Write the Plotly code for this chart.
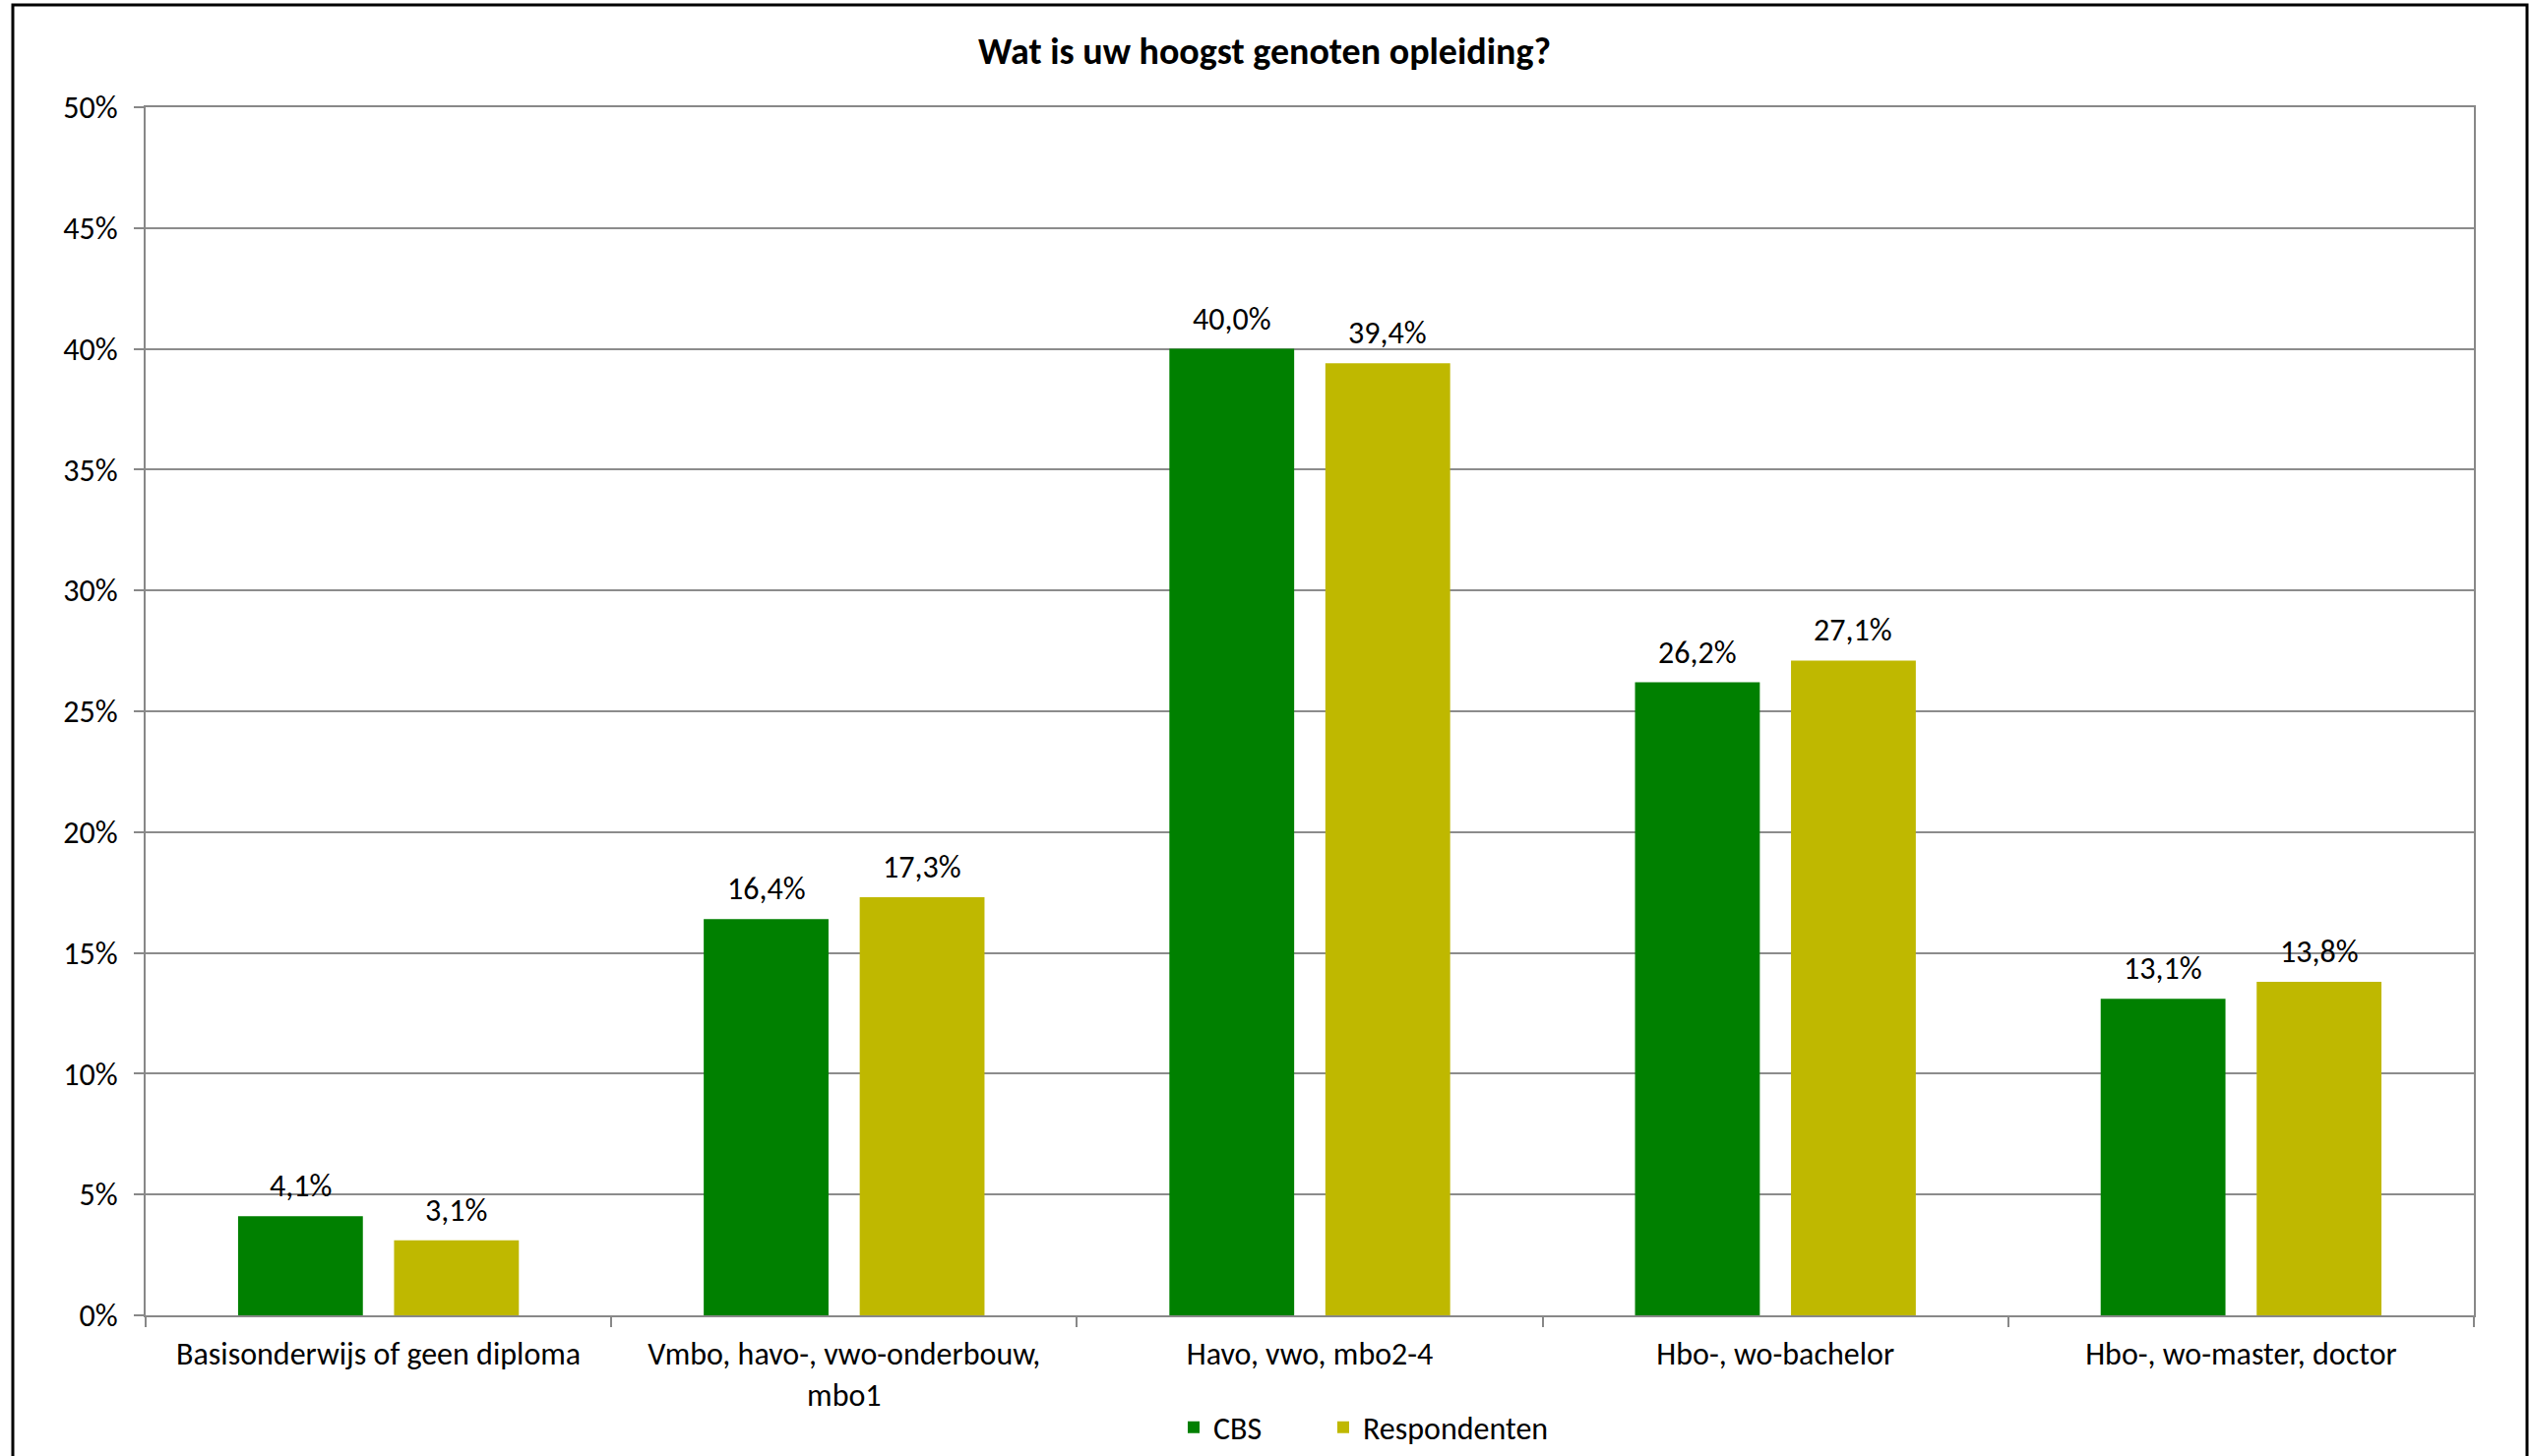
import plotly.graph_objects as go

categories = [
    "Basisonderwijs of geen diploma",
    "Vmbo, havo-, vwo-onderbouw,<br>mbo1",
    "Havo, vwo, mbo2-4",
    "Hbo-, wo-bachelor",
    "Hbo-, wo-master, doctor",
]
cbs = [4.1, 16.4, 40.0, 26.2, 13.1]
respondenten = [3.1, 17.3, 39.4, 27.1, 13.8]
y_ticks = list(range(0, 55, 5))
y_ticklabels = [f"{v}%" for v in y_ticks]

FONT = "Carlito, Lato, 'Liberation Sans', sans-serif"
FS = 32


def fmt(v):
    return f"{v:.1f}".replace(".", ",") + "%"


L, R, T, B = 148, 56, 109, 143
W, H = 2570, 1480
pw, ph = W - L - R, H - T - B
BARGAP, GROUPGAP = 0.33, 0.2
slot = pw / len(categories) * (1 - BARGAP) / 2

fig = go.Figure()
series = [("CBS", cbs, "#008000", "legend", 1193),
          ("Respondenten", respondenten, "#BFB800", "legend2", 1345)]
for name, vals, col, leg, _ in series:
    fig.add_trace(go.Bar(
        name=name, x=categories, y=vals, legend=leg, showlegend=True,
        marker=dict(color=col, line=dict(width=0)),
    ))

for i, (name, vals, col, _, _) in enumerate(series):
    shift = (i - 0.5) * slot
    for c, v in zip(categories, vals):
        fig.add_annotation(
            x=c, y=v, xref="x", yref="y", text=fmt(v), showarrow=False,
            xanchor="center", yanchor="bottom", xshift=shift, yshift=9,
            font=dict(size=FS, family=FONT, color="black"),
        )

legend_style = dict(
    orientation="h", xref="container", xanchor="left",
    yref="container", y=1 - 1451 / H, yanchor="middle",
    font=dict(size=FS, family=FONT), itemwidth=30,
    bgcolor="rgba(0,0,0,0)",
)

fig.update_layout(
    width=W, height=H, showlegend=True,
    margin=dict(l=L, r=R, t=T, b=B, autoexpand=False),
    paper_bgcolor="white", plot_bgcolor="white",
    font=dict(family=FONT, size=FS, color="black"),
    barmode="group", bargap=BARGAP, bargroupgap=GROUPGAP,
    title=dict(
        text="<b>Wat is uw hoogst genoten opleiding?</b>",
        x=0.5, xanchor="center", y=1 - 52 / H, yanchor="middle",
        yref="container", font=dict(size=38, family=FONT, color="black"),
    ),
    legend=dict(x=series[0][4] / W, **legend_style),
    legend2=dict(x=series[1][4] / W, **legend_style),
)
fig.update_xaxes(
    showline=True, linecolor="#888888", linewidth=2, mirror=True,
    ticks="outside", tickson="boundaries", ticklen=10, tickcolor="#888888",
    tickwidth=2, showgrid=False, tickfont=dict(size=FS, family=FONT),
    ticklabelstandoff=10, automargin=False,
)
fig.update_yaxes(
    range=[0, 50], tickvals=y_ticks, ticktext=y_ticklabels,
    showline=True, linecolor="#888888", linewidth=2, mirror=True,
    ticks="outside", ticklen=10, tickcolor="#888888", tickwidth=2,
    showgrid=True, gridcolor="#8c8c8c", gridwidth=2, zeroline=False,
    tickfont=dict(size=FS, family=FONT), ticklabelstandoff=10,
    automargin=False,
)

# outer chart border
fig.add_shape(
    type="rect", xref="paper", yref="paper",
    x0=(13 - L) / pw, x1=(2568 - L) / pw,
    y0=(H - B - 1495) / ph, y1=(H - B - 5) / ph,
    line=dict(color="black", width=3), fillcolor="rgba(0,0,0,0)",
    layer="below",
)

fig.write_html(
    "out.html",
    config={"displayModeBar": False},
    post_script="document.body.style.margin='0';document.body.style.overflow='hidden';",
)
